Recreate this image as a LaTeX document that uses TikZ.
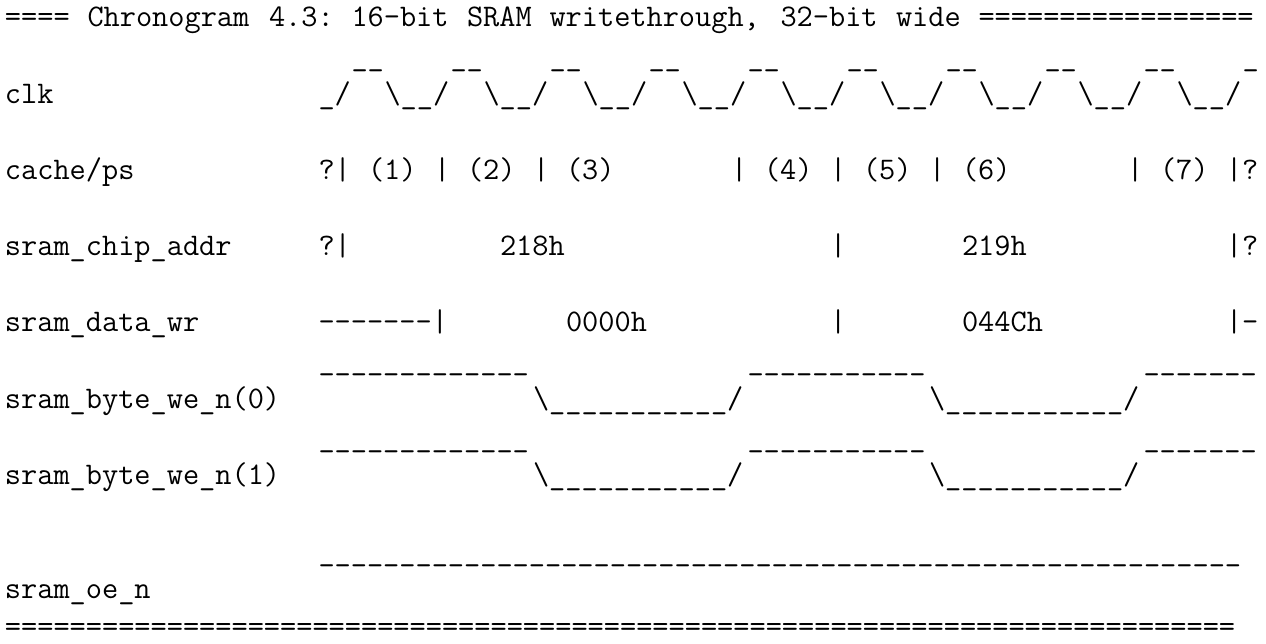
\documentclass[tikz,border=0pt]{standalone}
\ExplSyntaxOn
\cs_new:Npn \myrep #1#2 { \prg_replicate:nn {#1} {#2} }
\ExplSyntaxOff
\newcommand\myxo{5}
\newcommand\mycw{16.5}
\newcommand\myy{27}
\newcommand\mypitch{38.1}
% \tseg{name}{line}{column}{text}
\newcommand\tseg[4]{\node[txt] (#1) at ({\myxo+\mycw*(#3)},{\myy+\mypitch*(#2)}) {#4};}
\newcommand\hy{-\kern0pt}
\newcommand\bs{\textbackslash}
\begin{document}
\begin{tikzpicture}[x=1pt,y=-1pt,
  txt/.style={anchor=base west,inner sep=0pt,outer sep=0pt,
    font=\ttfamily\fontsize{31.43}{37}\selectfont\frenchspacing}]
\useasboundingbox (0,0) rectangle (1266,644);
% line 0: title
\tseg{tA}{0}{0}{====}
\tseg{tB}{0}{5}{Chronogram}
\tseg{tC}{0}{16}{4.3:}
\tseg{tD}{0}{21}{16\hy bit}
\tseg{tE}{0}{28}{SRAM}
\tseg{tF}{0}{33}{writethrough,}
\tseg{tG}{0}{47}{32\hy bit}
\tseg{tH}{0}{54}{wide}
\tseg{tI}{0}{59}{\myrep{17}{=}}
% line 1-2: clk
\foreach \k in {0,...,8} {\tseg{clkhi\k}{1}{21+6*\k}{\_\_}}
\tseg{clkhiend}{1}{75}{\_}
\tseg{clklbl}{2}{0}{clk}
\tseg{clkstart}{2}{19}{\_/}
\foreach \k in {0,...,8} {\tseg{clklo\k}{2}{23+6*\k}{\bs\_\_/}}
% line 4: cache/ps
\tseg{pslbl}{4}{0}{cache/ps}
\tseg{psa}{4}{19}{?|}
\tseg{ps1}{4}{22}{(1)}
\tseg{psb}{4}{26}{|}
\tseg{ps2}{4}{28}{(2)}
\tseg{psc}{4}{32}{|}
\tseg{ps3}{4}{34}{(3)}
\tseg{psd}{4}{44}{|}
\tseg{ps4}{4}{46}{(4)}
\tseg{pse}{4}{50}{|}
\tseg{ps5}{4}{52}{(5)}
\tseg{psf}{4}{56}{|}
\tseg{ps6}{4}{58}{(6)}
\tseg{psg}{4}{68}{|}
\tseg{ps7}{4}{70}{(7)}
\tseg{psh}{4}{74}{|?}
% line 6: sram_chip_addr
\tseg{addrlbl}{6}{0}{sram\_chip\_addr}
\tseg{addra}{6}{19}{?|}
\tseg{addr1}{6}{30}{218h}
\tseg{addrb}{6}{50}{|}
\tseg{addr2}{6}{58}{219h}
\tseg{addrc}{6}{74}{|?}
% line 8: sram_data_wr
\tseg{datalbl}{8}{0}{sram\_data\_wr}
\tseg{dataa}{8}{19}{\myrep{7}{\hy}|}
\tseg{data1}{8}{34}{0000h}
\tseg{datab}{8}{50}{|}
\tseg{data2}{8}{58}{044Ch}
\tseg{datac}{8}{74}{|\hy}
% lines 9-10: sram_byte_we_n(0)
\tseg{wezhia}{9}{19}{\myrep{13}{\_}}
\tseg{wezhib}{9}{45}{\myrep{11}{\_}}
\tseg{wezhic}{9}{69}{\myrep{7}{\_}}
\tseg{wezlbl}{10}{0}{sram\_byte\_we\_n(0)}
\tseg{wezloa}{10}{32}{\bs\myrep{11}{\_}/}
\tseg{wezlob}{10}{56}{\bs\myrep{11}{\_}/}
% lines 11-12: sram_byte_we_n(1)
\tseg{weohia}{11}{19}{\myrep{13}{\_}}
\tseg{weohib}{11}{45}{\myrep{11}{\_}}
\tseg{weohic}{11}{69}{\myrep{7}{\_}}
\tseg{weolbl}{12}{0}{sram\_byte\_we\_n(1)}
\tseg{weoloa}{12}{32}{\bs\myrep{11}{\_}/}
\tseg{weolob}{12}{56}{\bs\myrep{11}{\_}/}
% lines 14-15: sram_oe_n
\tseg{oehi}{14}{19}{\myrep{57}{\_}}
\tseg{oelbl}{15}{0}{sram\_oe\_n}
% line 16: closing rule
\tseg{closing}{16}{0}{\myrep{76}{=}}
\end{tikzpicture}
\end{document}
